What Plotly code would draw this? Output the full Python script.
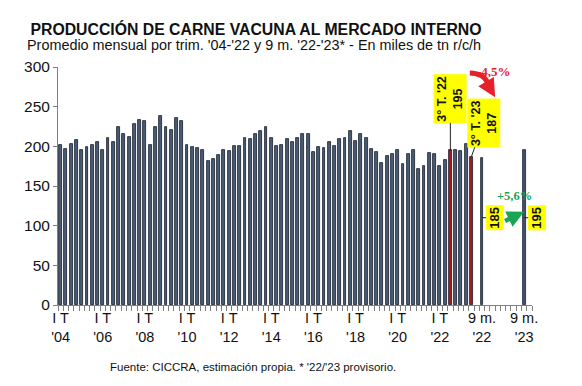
import plotly.graph_objects as go

# ---- data ----
quarterly = [202, 197, 203, 208,  196, 199, 202, 205,  196, 210, 206, 224,
             216, 212, 228, 233,  232, 202, 224, 238,  224, 221, 236, 232,
             202, 199, 198, 195,  181, 184, 189, 196,  194, 200, 201, 210,
             209, 215, 219, 224,  210, 201, 202, 209,  205, 211, 215, 215,
             193, 199, 198, 205,  200, 209, 210, 219,  207, 215, 211, 197,
             193, 179, 188, 190,  196, 178, 190, 195,  172, 175, 191, 190,
             175, 183, 195, 196,  194, 203, 187]
highlight_idx = [74, 78]           # 3° T. '22 and 3° T. '23
highlight_names = ["3° T. '22", "3° T. '23"]
total_names = ["9 m.<br>'22", "9 m.<br>'23"]
total_values = [185, 195]
year_labels = ["I T<br>'04", "I T<br>'06", "I T<br>'08", "I T<br>'10", "I T<br>'12",
               "I T<br>'14", "I T<br>'16", "I T<br>'18", "I T<br>'20", "I T<br>'22"]
change_9m = "+5,6%"
change_q3 = "-4,5%"

# ---- layout helpers ----
n = len(quarterly)
q_x = list(range(n))
total_x = [n + 1, n + 9]
n_slots = n + 11
tick_vals = [8 * k for k in range(len(year_labels))] + total_x
tick_texts = year_labels + total_names

SLATE = "#4A5B74"
RED = "#A8191C"
FONT = "Liberation Sans, Arial, sans-serif"
SERIF = "Liberation Serif, Times New Roman, serif"
W, H = 574, 378   # page body has an 8px margin inside the 582x386 window

colors = [RED if i in highlight_idx else SLATE for i in q_x]

fig = go.Figure()
fig.add_trace(go.Bar(x=q_x, y=quarterly, width=0.55,
                     marker=dict(color=colors, line=dict(color="#151d2b", width=0.8)),
                     hoverinfo="y", showlegend=False))
fig.add_trace(go.Bar(x=total_x, y=total_values, width=0.55,
                     marker=dict(color="#415169", line=dict(color="#1c2636", width=0.8)),
                     hoverinfo="y", showlegend=False))

ann = []
offs = [(0, -52), (12, -34)]
for (i, name), (ax, ay) in zip(zip(highlight_idx, highlight_names), offs):
    ann.append(dict(x=i, y=quarterly[i], xref="x", yref="y",
                    text=f"<b>{name}<br>{quarterly[i]}</b>", textangle=-90,
                    showarrow=True, arrowhead=0, arrowwidth=1, arrowcolor="#222",
                    ax=ax, ay=ay, bgcolor="#FFFF00", borderpad=1,
                    font=dict(family=FONT, size=12.5, color="#111")))
for xv, v in zip(total_x, total_values):
    ann.append(dict(x=xv, y=110, xref="x", yref="y",
                    text=f"<b>{v}</b>", textangle=-90,
                    showarrow=True, arrowhead=0, arrowwidth=1, arrowcolor="#222",
                    ax=13, ay=0, bgcolor="#FFFF00", borderpad=1,
                    font=dict(family=FONT, size=13, color="#111")))
ann.append(dict(x=82.2, y=294, xref="x", yref="y", text=f"<b>{change_q3}</b>",
                showarrow=False, font=dict(family=SERIF, size=13, color="#E8202A")))
ann.append(dict(x=86.2, y=138, xref="x", yref="y", text=f"<b>{change_9m}</b>",
                showarrow=False, font=dict(family=SERIF, size=12.5, color="#1AA555")))
ann.append(dict(x=82.5, y=262, xref="x", yref="y", axref="x", ayref="y",
                ax=81.0, ay=279, text="", showarrow=True, arrowhead=2,
                arrowsize=0.8, arrowwidth=4.5, arrowcolor="#E8202A"))
ann.append(dict(x=88.0, y=117.5, xref="x", yref="y", axref="x", ayref="y",
                ax=84.1, ay=105, text="", showarrow=True, arrowhead=2,
                arrowsize=0.75, arrowwidth=4.5, arrowcolor="#1AA555"))
ann.append(dict(x=0.414, y=1.092, xref="paper", yref="paper", showarrow=False,
                yanchor="middle",
                text="Promedio mensual por trim. '04-'22 y 9 m. '22-'23* - En miles de tn r/c/h",
                font=dict(family=FONT, size=14.4, color="#111")))
ann.append(dict(x=0.411, y=-0.26, xref="paper", yref="paper", showarrow=False,
                yanchor="middle",
                text="Fuente: CICCRA, estimación propia. * '22/'23 provisorio.",
                font=dict(family=FONT, size=11.5, color="#111")))

shapes = [dict(type="path", xref="x", yref="y",
               path="M 77.7,292.5 Q 80.4,292 81.1,280",
               line=dict(color="#E8202A", width=5))]

fig.update_layout(
    width=W, height=H,
    margin=dict(l=50, r=50, t=59, b=81),
    paper_bgcolor="white", plot_bgcolor="white",
    title=dict(text="<b>PRODUCCIÓN DE CARNE VACUNA AL MERCADO INTERNO</b>",
               x=248 / W, xanchor="center", y=1 - 21 / H, yanchor="middle",
               font=dict(family=FONT, size=15.8, color="#111")),
    annotations=ann, shapes=shapes, bargap=0,
    xaxis=dict(range=[-0.5, n_slots - 0.5], tickmode="array", tickvals=tick_vals,
               ticktext=tick_texts, ticks="", showgrid=False, zeroline=False,
               showline=True, linecolor="#808080", linewidth=1,
               tickfont=dict(family=FONT, size=14.5, color="#111"),
               minor=dict(tickmode="linear", tick0=-0.5, dtick=1, ticks="outside",
                          ticklen=5, tickcolor="#808080", showgrid=False)),
    yaxis=dict(range=[0, 300], tickmode="linear", tick0=0, dtick=50,
               ticks="outside", ticklen=4, tickcolor="#808080",
               showgrid=False, zeroline=False, showline=True,
               linecolor="#808080", linewidth=1,
               tickfont=dict(family=FONT, size=15.5, color="#111")),
)

fig.write_html("out.html")
